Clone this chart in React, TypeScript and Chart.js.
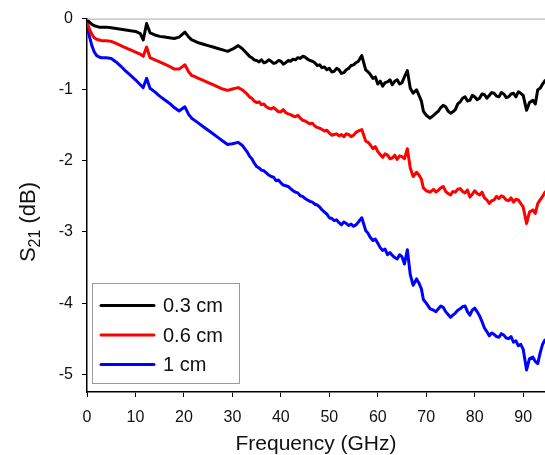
import React, { useEffect, useRef } from "react";
import { Chart, registerables } from "chart.js";

Chart.register(...registerables);

const freq = [
  0,0.5,1,1.5,2,2.5,3,4,5,6,
  7,8,9,10,11,11.6,12.3,13,14,15,
  16,17,18,19,20.2,21,21.6,22,23,24,
  25,26,27,28,29,30,31.2,32,
  33,33.5,34,34.5,35,35.5,36,36.5,37,37.5,
  38,38.5,39,39.5,40,40.5,41,41.5,42,42.5,
  43,43.5,44,44.5,45,45.5,46,46.5,47,47.5,
  48,48.5,49,49.5,50,50.5,51,51.5,52,52.5,
  53,53.5,54,54.5,55,55.5,56,56.7,57.5,58,
  58.4,59,59.5,60,60.5,61,61.5,62,62.5,63,
  63.5,64,64.5,65,65.5,66.1,66.7,67.3,68,68.5,
  69,69.4,70,70.8,71.5,72,72.5,73,73.5,74,
  74.5,75,75.5,76,76.5,77,77.5,78,78.5,79,
  79.5,80,80.5,81,81.5,82,82.5,83,83.5,84,
  84.5,85,85.5,86,86.5,87,87.5,88,88.5,89,
  89.5,90,90.7,91.3,92,92.5,93,93.5,94,94.5,
];

const s03 = [
  -0.02,-0.05,-0.08,-0.10,-0.11,-0.12,-0.12,-0.12,-0.13,-0.14,
  -0.15,-0.16,-0.17,-0.18,-0.21,-0.30,-0.07,-0.20,-0.23,-0.25,
  -0.26,-0.27,-0.28,-0.26,-0.19,-0.26,-0.30,-0.31,-0.34,-0.36,
  -0.38,-0.40,-0.42,-0.44,-0.46,-0.43,-0.38,-0.42,
  -0.49,-0.53,-0.55,-0.58,-0.59,-0.61,-0.58,-0.62,-0.61,-0.58,
  -0.60,-0.63,-0.62,-0.59,-0.60,-0.64,-0.62,-0.59,-0.60,-0.57,
  -0.58,-0.55,-0.56,-0.53,-0.54,-0.57,-0.59,-0.60,-0.62,-0.66,
  -0.65,-0.69,-0.68,-0.72,-0.70,-0.75,-0.74,-0.70,-0.72,-0.77,
  -0.76,-0.72,-0.70,-0.66,-0.65,-0.62,-0.60,-0.52,-0.72,-0.75,
  -0.78,-0.84,-0.82,-0.92,-0.88,-0.95,-0.90,-0.89,-0.86,-0.93,
  -0.88,-0.86,-0.92,-0.90,-0.82,-0.73,-0.98,-1.05,-1.00,-1.08,
  -1.16,-1.30,-1.36,-1.40,-1.36,-1.33,-1.30,-1.25,-1.22,-1.24,
  -1.30,-1.33,-1.31,-1.28,-1.20,-1.17,-1.12,-1.10,-1.16,-1.15,
  -1.08,-1.10,-1.14,-1.12,-1.06,-1.07,-1.12,-1.08,-1.04,-1.05,
  -1.09,-1.10,-1.04,-1.06,-1.11,-1.10,-1.06,-1.05,-1.10,-1.03,
  -1.05,-1.08,-1.29,-1.18,-1.15,-1.20,-1.00,-0.98,-0.92,-0.87,
];

const s06 = [
  -0.05,-0.15,-0.22,-0.27,-0.29,-0.30,-0.31,-0.31,-0.32,-0.35,
  -0.38,-0.41,-0.44,-0.47,-0.50,-0.53,-0.40,-0.55,-0.58,-0.61,
  -0.64,-0.67,-0.71,-0.71,-0.65,-0.75,-0.80,-0.81,-0.84,-0.87,
  -0.90,-0.93,-0.96,-0.99,-1.01,-0.99,-0.97,-1.00,
  -1.06,-1.10,-1.12,-1.16,-1.18,-1.17,-1.21,-1.20,-1.24,-1.26,
  -1.27,-1.25,-1.28,-1.31,-1.31,-1.28,-1.32,-1.34,-1.35,-1.37,
  -1.38,-1.36,-1.40,-1.43,-1.44,-1.46,-1.48,-1.47,-1.51,-1.53,
  -1.54,-1.56,-1.58,-1.57,-1.61,-1.64,-1.63,-1.62,-1.65,-1.63,
  -1.66,-1.62,-1.63,-1.66,-1.64,-1.60,-1.58,-1.56,-1.72,-1.74,
  -1.77,-1.83,-1.80,-1.87,-1.91,-1.95,-1.90,-1.92,-1.97,-1.96,
  -1.92,-1.98,-1.93,-1.94,-1.97,-1.83,-2.10,-2.22,-2.16,-2.20,
  -2.26,-2.38,-2.42,-2.44,-2.40,-2.44,-2.41,-2.38,-2.36,-2.43,
  -2.46,-2.48,-2.43,-2.44,-2.40,-2.39,-2.43,-2.45,-2.41,-2.51,
  -2.47,-2.42,-2.46,-2.48,-2.44,-2.52,-2.55,-2.60,-2.56,-2.55,
  -2.50,-2.53,-2.49,-2.51,-2.55,-2.56,-2.52,-2.58,-2.54,-2.55,
  -2.60,-2.65,-2.88,-2.72,-2.69,-2.74,-2.60,-2.55,-2.50,-2.44,
];

const s1 = [
  -0.10,-0.25,-0.38,-0.47,-0.52,-0.54,-0.55,-0.55,-0.56,-0.61,
  -0.67,-0.74,-0.80,-0.86,-0.93,-0.97,-0.84,-0.98,-1.03,-1.09,
  -1.14,-1.19,-1.25,-1.30,-1.24,-1.35,-1.40,-1.42,-1.47,-1.52,
  -1.57,-1.62,-1.67,-1.72,-1.77,-1.76,-1.74,-1.78,
  -1.87,-1.93,-1.97,-2.03,-2.08,-2.10,-2.13,-2.14,-2.17,-2.20,
  -2.22,-2.23,-2.28,-2.27,-2.31,-2.34,-2.35,-2.36,-2.39,-2.42,
  -2.44,-2.45,-2.49,-2.50,-2.53,-2.55,-2.57,-2.58,-2.61,-2.62,
  -2.65,-2.69,-2.72,-2.75,-2.80,-2.81,-2.84,-2.83,-2.87,-2.90,
  -2.86,-2.88,-2.91,-2.89,-2.92,-2.90,-2.86,-2.80,-2.98,-3.02,
  -3.07,-3.12,-3.10,-3.16,-3.22,-3.26,-3.24,-3.32,-3.29,-3.33,
  -3.36,-3.38,-3.32,-3.35,-3.45,-3.25,-3.60,-3.75,-3.66,-3.72,
  -3.80,-3.95,-4.00,-4.08,-4.10,-4.12,-4.08,-4.04,-4.06,-4.12,
  -4.16,-4.20,-4.17,-4.14,-4.10,-4.08,-4.05,-4.04,-4.12,-4.17,
  -4.10,-4.07,-4.12,-4.18,-4.26,-4.35,-4.40,-4.46,-4.42,-4.44,
  -4.47,-4.48,-4.43,-4.45,-4.49,-4.50,-4.47,-4.55,-4.53,-4.60,
  -4.58,-4.65,-4.94,-4.78,-4.76,-4.82,-4.85,-4.70,-4.58,-4.52,
];

const seriesLabels = ["0.3 cm", "0.6 cm", "1 cm"];
const seriesColors = ["#000000", "#ff0000", "#0000ff"];
const seriesValues = [s03, s06, s1];
const xTicks = [0, 10, 20, 30, 40, 50, 60, 70, 80, 90];
const yTicks = [0, -1, -2, -3, -4, -5];

const FONT = "'Liberation Sans', Arial, sans-serif";

const decor = {
  id: "decor",
  afterDraw(chart: any) {
    const ctx = chart.ctx;
    const a = chart.chartArea;
    ctx.save();
    ctx.strokeStyle = "#aaaaaa";
    ctx.lineWidth = 1;
    ctx.beginPath();
    ctx.moveTo(a.left, a.top + 0.5);
    ctx.lineTo(a.right, a.top + 0.5);
    ctx.stroke();

    const lx = 92, ly = 283, lw = 147, lh = 100;
    ctx.fillStyle = "#ffffff";
    ctx.fillRect(lx, ly, lw, lh);
    ctx.strokeStyle = "#999999";
    ctx.lineWidth = 1;
    ctx.strokeRect(lx + 0.5, ly + 0.5, lw, lh);
    const rows = [305.5, 335, 364.5];
    ctx.font = "20px " + FONT;
    ctx.textBaseline = "middle";
    ctx.textAlign = "left";
    seriesLabels.forEach((lab, i) => {
      ctx.strokeStyle = seriesColors[i];
      ctx.lineWidth = 3;
      ctx.lineCap = "round";
      ctx.beginPath();
      ctx.moveTo(101, rows[i]);
      ctx.lineTo(154, rows[i]);
      ctx.stroke();
      ctx.fillStyle = "#111111";
      ctx.fillText(lab, 163, rows[i] + 1);
    });

    ctx.font = "21px " + FONT;
    ctx.textAlign = "center";
    ctx.textBaseline = "alphabetic";
    ctx.fillStyle = "#111111";
    ctx.fillText("Frequency (GHz)", (a.left + a.right) / 2, 450);

    ctx.translate(35, 222);
    ctx.rotate(-Math.PI / 2);
    const big = "22px " + FONT;
    const small = "16px " + FONT;
    ctx.font = big;
    const wS = ctx.measureText("S").width;
    ctx.font = small;
    const w21 = ctx.measureText("21").width;
    ctx.font = big;
    const wRest = ctx.measureText(" (dB)").width;
    const total = wS + w21 + wRest;
    let x0 = -total / 2;
    ctx.textAlign = "left";
    ctx.font = big;
    ctx.fillText("S", x0, 0);
    x0 += wS;
    ctx.font = small;
    ctx.fillText("21", x0, 5);
    x0 += w21;
    ctx.font = big;
    ctx.fillText(" (dB)", x0, 0);
    ctx.restore();
  },
};

export default function App() {
  const ref = useRef<HTMLCanvasElement | null>(null);
  useEffect(() => {
    document.body.style.margin = "0";
    const canvas = ref.current!;
    const datasets = seriesLabels.map((lab, i) => ({
      label: lab,
      data: freq.map((f, j) => ({ x: f, y: seriesValues[i][j] })),
      borderColor: seriesColors[i],
      backgroundColor: seriesColors[i],
      borderWidth: 3,
      pointRadius: 0,
      tension: 0,
      borderJoinStyle: "round" as const,
      borderCapStyle: "round" as const,
    }));
    const chart = new Chart(canvas, {
      type: "line",
      data: { datasets },
      options: {
        animation: false,
        responsive: false,
        layout: { padding: { top: 18, right: 0, left: 0, bottom: 0 } },
        plugins: { legend: { display: false }, tooltip: { enabled: false } },
        scales: {
          x: {
            type: "linear",
            min: 0,
            max: 94.5,
            afterFit: (s: any) => { s.height = 63; },
            afterBuildTicks: (s: any) => { s.ticks = xTicks.map((v) => ({ value: v })); },
            ticks: { font: { size: 16, family: FONT }, color: "#111111", padding: 11, maxRotation: 0, autoSkip: false },
            grid: { display: true, drawOnChartArea: false, drawTicks: true, tickLength: 5, color: "#000000", lineWidth: 1 },
            border: { display: true, color: "#000000", width: 1.5 },
          },
          y: {
            type: "linear",
            min: -5.25,
            max: 0,
            afterFit: (s: any) => { s.width = 87; },
            afterBuildTicks: (s: any) => { s.ticks = yTicks.map((v) => ({ value: v })); },
            ticks: { font: { size: 16, family: FONT }, color: "#111111", padding: 9, autoSkip: false },
            grid: { display: true, drawOnChartArea: false, drawTicks: true, tickLength: 5, color: "#000000", lineWidth: 1 },
            border: { display: true, color: "#000000", width: 1.5 },
          },
        },
      },
      plugins: [decor],
    });
    return () => chart.destroy();
  }, []);
  return <canvas ref={ref} width={545} height={455} style={{ display: "block", width: 545, height: 455 }} />;
}
